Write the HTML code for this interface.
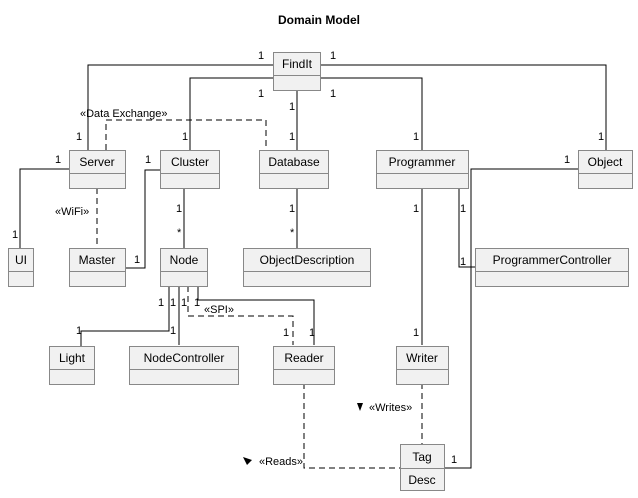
<!DOCTYPE html>
<html><head><meta charset="utf-8"><style>
html,body{margin:0;padding:0;background:#fff;}
svg{display:block;font-family:"Liberation Sans",sans-serif;}
</style></head><body>
<svg width="638" height="498" viewBox="0 0 638 498" xmlns="http://www.w3.org/2000/svg">
<text x="319" y="24" font-size="12" font-weight="bold" text-anchor="middle">Domain Model</text>
<g fill="none" stroke="#000" stroke-width="1">
<polyline points="273,65 88,65 88,150"/>
<polyline points="273,78 190,78 190,150"/>
<line x1="297" y1="90" x2="297" y2="150"/>
<polyline points="320,78 422,78 422,150"/>
<polyline points="320,65 606,65 606,150"/>
<polyline points="69,169 20,169 20,248"/>
<polyline points="125,268 145,268 145,170 160,170"/>
<line x1="184" y1="188" x2="184" y2="248"/>
<line x1="297" y1="188" x2="297" y2="248"/>
<polyline points="459,188 459,267 475,267"/>
<line x1="422" y1="188" x2="422" y2="345"/>
<polyline points="578,169 471,169 471,468 444,468"/>
<polyline points="169,286 169,331 81,331 81,346"/>
<line x1="179" y1="286" x2="179" y2="345"/>
<polyline points="198,286 198,300 314,300 314,345"/>
</g>
<g fill="none" stroke="#000" stroke-width="1" stroke-dasharray="6,4">
<polyline points="106,150 106,120 266,120 266,150"/>
<line x1="97" y1="188" x2="97" y2="248"/>
<polyline points="188,286 188,316 293,316 293,345"/>
<polyline points="304,383 304,468 400,468"/>
<line x1="422" y1="383" x2="422" y2="444"/>
</g>
<g fill="#f1f1f1" stroke="#888" stroke-width="1">
<rect x="273.5" y="52.5" width="47" height="38"/><line x1="273" y1="75.5" x2="321" y2="75.5"/>
<rect x="69.5" y="150.5" width="56" height="38"/><line x1="69" y1="173.5" x2="126" y2="173.5"/>
<rect x="160.5" y="150.5" width="59" height="38"/><line x1="160" y1="173.5" x2="220" y2="173.5"/>
<rect x="259.5" y="150.5" width="69" height="38"/><line x1="259" y1="173.5" x2="329" y2="173.5"/>
<rect x="376.5" y="150.5" width="92" height="38"/><line x1="376" y1="173.5" x2="469" y2="173.5"/>
<rect x="578.5" y="150.5" width="54" height="38"/><line x1="578" y1="173.5" x2="633" y2="173.5"/>
<rect x="8.5" y="248.5" width="25" height="38"/><line x1="8" y1="271.5" x2="34" y2="271.5"/>
<rect x="69.5" y="248.5" width="56" height="38"/><line x1="69" y1="271.5" x2="126" y2="271.5"/>
<rect x="160.5" y="248.5" width="47" height="38"/><line x1="160" y1="271.5" x2="208" y2="271.5"/>
<rect x="243.5" y="248.5" width="127" height="38"/><line x1="243" y1="271.5" x2="371" y2="271.5"/>
<rect x="475.5" y="248.5" width="153" height="38"/><line x1="475" y1="271.5" x2="629" y2="271.5"/>
<rect x="49.5" y="346.5" width="45" height="38"/><line x1="49" y1="369.5" x2="95" y2="369.5"/>
<rect x="129.5" y="346.5" width="109" height="38"/><line x1="129" y1="369.5" x2="239" y2="369.5"/>
<rect x="273.5" y="346.5" width="61" height="38"/><line x1="273" y1="369.5" x2="335" y2="369.5"/>
<rect x="396.5" y="346.5" width="52" height="38"/><line x1="396" y1="369.5" x2="449" y2="369.5"/>
<rect x="400.5" y="444.5" width="44" height="46"/><line x1="400" y1="468.5" x2="445" y2="468.5"/>
</g>
<g font-size="12" fill="#000" text-anchor="middle">
<text x="297" y="68">FindIt</text>
<text x="97" y="166">Server</text>
<text x="190" y="166">Cluster</text>
<text x="294" y="166">Database</text>
<text x="422" y="166">Programmer</text>
<text x="605" y="166">Object</text>
<text x="21" y="264">UI</text>
<text x="97" y="264">Master</text>
<text x="184" y="264">Node</text>
<text x="307" y="264">ObjectDescription</text>
<text x="552" y="264">ProgrammerController</text>
<text x="72" y="362">Light</text>
<text x="184" y="362">NodeController</text>
<text x="304" y="362">Reader</text>
<text x="422" y="362">Writer</text>
<text x="422" y="461">Tag</text>
<text x="422" y="484">Desc</text>
</g>
<g font-size="11" fill="#000">
<text x="258" y="59">1</text><text x="76" y="140">1</text>
<text x="258" y="97">1</text><text x="182" y="140">1</text>
<text x="289" y="110">1</text><text x="289" y="140">1</text>
<text x="330" y="97">1</text><text x="413" y="140">1</text>
<text x="330" y="59">1</text><text x="598" y="140">1</text>
<text x="80" y="117">«Data Exchange»</text>
<text x="55" y="163">1</text><text x="12" y="238">1</text>
<text x="55" y="215">«WiFi»</text>
<text x="145" y="163">1</text><text x="134" y="263">1</text>
<text x="176" y="212">1</text><text x="177" y="236">*</text>
<text x="289" y="212">1</text><text x="290" y="236">*</text>
<text x="413" y="212">1</text><text x="460" y="212">1</text>
<text x="460" y="265">1</text><text x="413" y="336">1</text>
<text x="564" y="163">1</text><text x="451" y="463">1</text>
<text x="158" y="306">1</text><text x="170" y="306">1</text><text x="181" y="306">1</text><text x="194" y="306">1</text>
<text x="76" y="334">1</text><text x="170" y="334">1</text>
<text x="204" y="313">«SPI»</text>
<text x="283" y="336">1</text><text x="309" y="336">1</text>
<text x="369" y="411">«Writes»</text>
<text x="259" y="465">«Reads»</text>
</g>
<polygon points="357,403 363,403 360,411" fill="#000"/>
<polygon points="243,457 252,460 247,465" fill="#000"/>
</svg>
</body></html>
